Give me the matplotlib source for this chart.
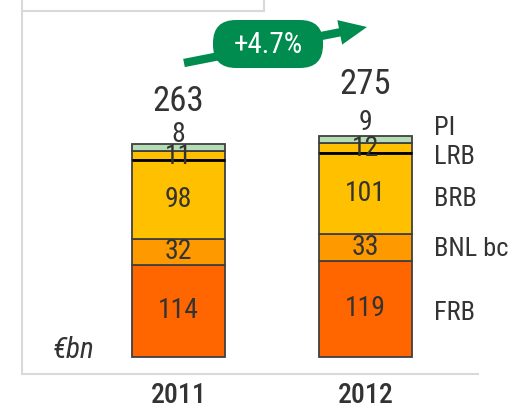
import matplotlib
matplotlib.use("Agg")
import matplotlib.pyplot as plt
from matplotlib.patches import FancyBboxPatch, FancyArrowPatch
import matplotlib.font_manager as fm

years = ["2011", "2012"]
segments = ["FRB", "BNL bc", "BRB", "LRB", "PI"]
values = {
    "FRB": [114, 119],
    "BNL bc": [32, 33],
    "BRB": [98, 101],
    "LRB": [11, 12],
    "PI": [8, 9],
}
totals = [263, 275]
growth_label = "+4.7%"
unit_label = "€bn"
colors = {"FRB": "#FF6600", "BNL bc": "#FF9900", "BRB": "#FFC000",
          "LRB": "#FFC000", "PI": "#B5DDB5"}

names = {f.name for f in fm.fontManager.ttflist}
fam = "Liberation Sans"
for cand in ["Roboto Condensed", "Arial Narrow", "Liberation Sans Narrow",
             "PT Sans Narrow", "Archivo Narrow", "Open Sans Condensed",
             "Fira Sans Condensed", "IBM Plex Sans Condensed", "Asap Condensed",
             "Encode Sans Condensed", "Barlow Semi Condensed"]:
    if cand in names:
        fam = cand
        break
plt.rcParams["font.family"] = [fam, "DejaVu Sans"]
TXT = "#333333"

W, H = 516, 408
fig = plt.figure(figsize=(W / 100, H / 100), dpi=100)
# axes from x=22..478 px, y=0..374 px (top-down)
ax = fig.add_axes([22 / W, (H - 374) / H, 456 / W, 374 / H])
ax.set_ylim(-21, 441.8)
ax.set_xlim(-0.837, 1.6016)
bw = 0.497
x = [0, 1]
total_off = [53, 62]
top_off = [12, 16]

bottoms = [0, 0]
for seg in segments:
    v = values[seg]
    ax.bar(x, v, bw, bottom=bottoms, color=colors[seg], edgecolor="#404040",
           linewidth=1.3, zorder=2)
    for i in range(2):
        cy = bottoms[i] + v[i] / 2
        if seg == "PI":
            cy = bottoms[i] + v[i] + top_off[i]
        elif seg == "LRB":
            cy = bottoms[i] + v[i] / 2 - 1
        ax.text(x[i], cy, str(v[i]), ha="center", va="center", fontsize=20,
                color=TXT, zorder=4)
    if seg == "BRB":
        top = [bottoms[i] + v[i] for i in range(2)]
    bottoms = [bottoms[i] + v[i] for i in range(2)]

# thick black line between BRB and LRB
for i in range(2):
    ax.plot([x[i] - bw / 2, x[i] + bw / 2], [top[i], top[i]], color="black",
            lw=2.0, zorder=3, solid_capstyle="butt")

for i in range(2):
    ax.text(x[i], totals[i] + total_off[i], str(totals[i]), ha="center",
            va="center", fontsize=25, color=TXT)

# segment labels on the right
label_y = {"PI": 284, "LRB": 247, "BRB": 196, "BNL bc": 134, "FRB": 55}
for seg in segments:
    ax.text(1.367, label_y[seg], seg, ha="left", va="center", fontsize=19,
            color=TXT)

ax.text(-0.559, 9, unit_label, ha="center", va="center", fontsize=21,
        style="italic", color=TXT)

ax.set_xticks(x)
ax.set_xticklabels(years, fontsize=20, color=TXT, fontweight=500)
ax.tick_params(axis="x", length=0, pad=6)
ax.set_yticks([])
for s in ["top", "right"]:
    ax.spines[s].set_visible(False)
for s in ["left", "bottom"]:
    ax.spines[s].set_color("#D9D9D9")
    ax.spines[s].set_linewidth(1.5)

# overlay in pixel coordinates for decorations
ov = fig.add_axes([0, 0, 1, 1], zorder=5)
ov.set_xlim(0, W)
ov.set_ylim(H, 0)
ov.axis("off")
ov.plot([22, 264], [11, 11], color="#D9D9D9", lw=1.5)
ov.plot([264, 264], [0, 11], color="#D9D9D9", lw=1.5)

GREEN = "#008C4F"
arr = FancyArrowPatch((184, 63), (367, 27),
                      arrowstyle="simple,tail_width=0.6,head_width=1.8,head_length=2.0",
                      mutation_scale=10, color=GREEN, lw=0, shrinkA=0, shrinkB=0)
ov.add_patch(arr)
box = FancyBboxPatch((213, 20), 110, 48,
                     boxstyle="round,pad=0,rounding_size=23",
                     facecolor=GREEN, edgecolor="none")
ov.add_patch(box)
ov.text(268, 45, growth_label, ha="center", va="center", fontsize=21,
        color="white")

fig.savefig("out.png", dpi=100)
